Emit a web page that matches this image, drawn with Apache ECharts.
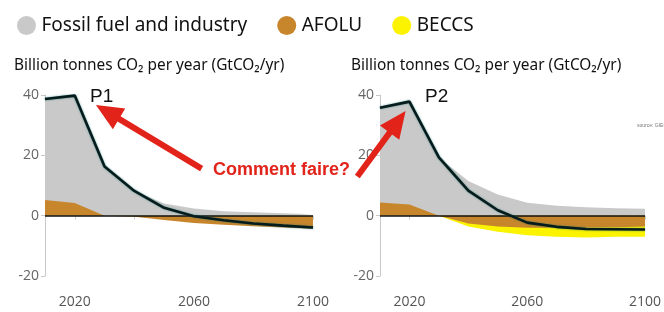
<!DOCTYPE html>
<html>
<head>
<meta charset="utf-8">
<script src="https://cdn.jsdelivr.net/npm/echarts@6/dist/echarts.min.js"></script>
<style>
  html, body { margin: 0; padding: 0; background: #fff; }
  #chart { width: 664px; height: 312px; }
</style>
</head>
<body>
<div id="chart"></div>
<script>
// years on the x axis
const years = [2010, 2020, 2030, 2040, 2050, 2060, 2070, 2080, 2090, 2100];
const xTicks = [2020, 2040, 2060, 2080, 2100];
const xLabels = [2020, 2060, 2100];

// P1 pathway (GtCO2/yr)
const p1Fossil = [38.7, 39.8, 16.3, 8.3, 4.0, 2.4, 1.5, 1.1, 0.8, 0.5];
const p1Afolu = [5.2, 4.2, 0, -0.4, -1.4, -2.4, -3.0, -3.5, -3.9, -4.3];
const p1Net = [38.7, 39.8, 16.3, 8.2, 2.6, -0.2, -1.5, -2.6, -3.3, -3.9];

// P2 pathway (GtCO2/yr)
const p2Fossil = [35.8, 37.8, 19.3, 11.5, 7.0, 4.3, 3.3, 2.8, 2.5, 2.3];
const p2Afolu = [4.4, 3.7, 0, -2.6, -3.6, -4.0, -4.0, -4.0, -3.8, -3.6];
const p2Beccs = [0, 0, 0, -1.0, -1.7, -2.5, -3.0, -3.2, -3.2, -3.4];
const p2Net = [35.8, 37.8, 19.3, 8.3, 1.8, -2.3, -3.7, -4.4, -4.5, -4.6];

const legendNames = ["Fossil fuel and industry", "AFOLU", "BECCS"];
const subtitle = "Billion tonnes CO₂ per year (GtCO₂/yr)";

const GRAY = "#c9c9c9";
const ORANGE = "#c8862c";
const YELLOW = "#fbf300";
const RED = "#e2231a";

const pts = vals => years.map((y, i) => [y, vals[i]]);
// BECCS sits under the negative AFOLU part
const p2LandBeccs = p2Afolu.map((v, i) => (v < 0 ? v : 0) + p2Beccs[i]);

const chart = echarts.init(document.getElementById("chart"));

function xAxis(idx) {
    return {
        type: "value", gridIndex: idx, min: 2010, max: 2100, offset: 11,
        axisLine: { show: false },
        splitLine: { show: false },
        axisTick: { customValues: xTicks, length: 4, lineStyle: { color: "#cfcfcf" } },
        axisLabel: {
            customValues: xLabels, color: "#555", fontSize: 14, margin: 8,
            fontFamily: "Open Sans", formatter: v => String(v)
        }
    };
}

function yAxis(idx) {
    return {
        type: "value", gridIndex: idx, min: -20, max: 40, interval: 20,
        splitLine: { show: false },
        axisLine: { show: true, lineStyle: { color: "#c8c8c8" } },
        axisTick: { show: true, length: 4, lineStyle: { color: "#c8c8c8" } },
        axisLabel: { color: "#666", fontSize: 14, margin: 6, fontFamily: "Open Sans" }
    };
}

function area(name, idx, vals, color) {
    return {
        name: name, type: "line", xAxisIndex: idx, yAxisIndex: idx,
        data: pts(vals), showSymbol: false, silent: true,
        lineStyle: { width: 0 },
        itemStyle: { color: color },
        areaStyle: { color: color, opacity: 1 },
        animation: false
    };
}

function netLine(idx, vals) {
    return {
        type: "line", xAxisIndex: idx, yAxisIndex: idx,
        data: pts(vals), showSymbol: false, silent: true, z: 5,
        lineStyle: { color: "#061b1b", width: 2.6, shadowColor: "rgba(20,110,110,0.7)", shadowBlur: 2 },
        markLine: {
            silent: true, symbol: "none", label: { show: false },
            lineStyle: { color: "#111", width: 1.5, type: "solid" },
            data: [[{ coord: [2010, 0] }, { coord: [2100, 0] }]]
        },
        animation: false
    };
}

chart.setOption({
    animation: false,
    legend: {
        data: legendNames, left: 12, top: 11, icon: "circle",
        itemWidth: 20, itemHeight: 19, itemGap: 30,
        textStyle: { fontSize: 19, color: "#111", fontFamily: "Noto Sans" }
    },
    grid: [
        { left: 45, top: 95, width: 268, height: 181 },
        { left: 380, top: 95, width: 268, height: 181 }
    ],
    xAxis: [xAxis(0), xAxis(1)],
    yAxis: [yAxis(0), yAxis(1)],
    series: [
        area(legendNames[0], 0, p1Fossil, GRAY),
        area(legendNames[1], 0, p1Afolu, ORANGE),
        netLine(0, p1Net),
        area(legendNames[0], 1, p2Fossil, GRAY),
        area(legendNames[2], 1, p2LandBeccs, YELLOW),
        area(legendNames[1], 1, p2Afolu, ORANGE),
        netLine(1, p2Net)
    ]
});

// red annotation arrows, placed with the grids' own scales
function arrow(gridIndex, tail, tip) {
    const a = chart.convertToPixel({ gridIndex: gridIndex }, tail);
    const b = chart.convertToPixel({ gridIndex: gridIndex }, tip);
    const dx = b[0] - a[0], dy = b[1] - a[1];
    const len = Math.sqrt(dx * dx + dy * dy);
    const ux = dx / len, uy = dy / len;
    const headLen = 27, headW = 12;
    const bx = b[0] - ux * headLen, by = b[1] - uy * headLen;
    return [
        {
            type: "line", silent: true, z: 20,
            shape: { x1: a[0], y1: a[1], x2: bx + ux * 2, y2: by + uy * 2 },
            style: { stroke: RED, lineWidth: 6 }
        },
        {
            type: "polygon", silent: true, z: 20,
            shape: { points: [b, [bx - uy * headW, by + ux * headW], [bx + uy * headW, by - ux * headW]] },
            style: { fill: RED }
        }
    ];
}

const titleStyle = { fontSize: 15.4, fill: "#111", fontFamily: "Noto Sans", textVerticalAlign: "middle" };

chart.setOption({
    graphic: [
        { type: "text", left: 14, top: 58, silent: true, style: Object.assign({ text: subtitle }, titleStyle) },
        { type: "text", left: 351, top: 58, silent: true, style: Object.assign({ text: subtitle }, titleStyle) },
        { type: "text", left: 90, top: 87, silent: true, z: 21,
          style: { text: "P1", fontSize: 19, fill: "#111", fontFamily: "Liberation Sans" } },
        { type: "text", left: 425, top: 87, silent: true, z: 21,
          style: { text: "P2", fontSize: 19, fill: "#111", fontFamily: "Liberation Sans" } },
        { type: "text", left: 213, top: 161, silent: true, z: 21,
          style: { text: "Comment faire?", fontSize: 18, fontWeight: "bold", fill: RED, fontFamily: "Liberation Sans" } },
        { type: "text", left: 637, top: 123, silent: true,
          style: { text: "source: GIEC", fontSize: 5, fill: "#777", fontFamily: "Liberation Sans" } }
    ].concat(
        arrow(0, [2062.6, 15.6], [2027.1, 36.7]),
        arrow(1, [2002.3, 13.0], [2018.7, 34.7])
    )
});
</script>
</body>
</html>
